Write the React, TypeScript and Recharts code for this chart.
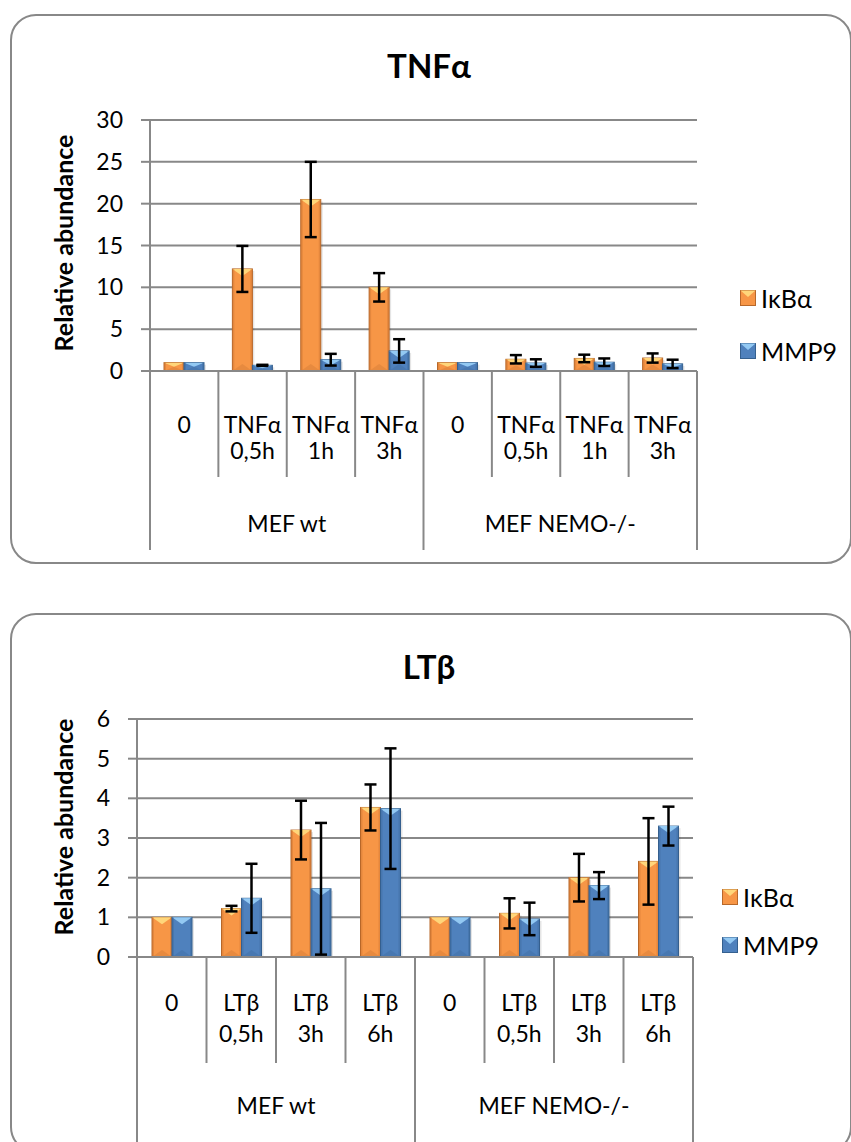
import React from 'react';
import { BarChart, Bar, XAxis, YAxis, CartesianGrid, ErrorBar, Legend } from 'recharts';

const groupNames = ['MEF wt', 'MEF NEMO-/-'];
const seriesNames = ['IκBα', 'MMP9'];

// TNFα panel
const tnfTimes = ['0', '0,5h', '1h', '3h', '0', '0,5h', '1h', '3h'];
const tnfIkb = [1, 12.2, 20.5, 10, 1, 1.4, 1.5, 1.55];
const tnfIkbErr = [0, 2.75, 4.5, 1.7, 0, 0.5, 0.45, 0.55];
const tnfMmp = [1, 0.68, 1.35, 2.4, 1, 0.95, 1.05, 0.85];
const tnfMmpErr = [0, 0.06, 0.7, 1.4, 0, 0.45, 0.45, 0.5];
const tnfTicks = [0, 5, 10, 15, 20, 25, 30];

// LTβ panel
const ltTimes = ['0', '0,5h', '3h', '6h', '0', '0,5h', '3h', '6h'];
const ltIkb = [1, 1.22, 3.2, 3.77, 1, 1.1, 2.0, 2.41];
const ltIkbErr = [0, 0.07, 0.74, 0.58, 0, 0.38, 0.6, 1.09];
const ltMmp = [1, 1.48, 1.72, 3.74, 1, 0.96, 1.8, 3.3];
const ltMmpErr = [0, 0.87, 1.66, 1.52, 0, 0.41, 0.34, 0.49];
const ltTicks = [0, 1, 2, 3, 4, 5, 6];

const FONT = "Lato, 'Open Sans', 'DejaVu Sans', sans-serif";
const GRID = '#888888';

const orange = { fill: '#f79646', light: '#ffd67a', dark: '#b8682a' };
const blue = { fill: '#4f81bd', light: '#93c9f3', dark: '#35608f' };

function buildRows(times: string[], ikb: number[], ikbErr: number[], mmp: number[], mmpErr: number[]) {
  return times.map((t, i) => ({
    idx: i,
    ikb: ikb[i],
    ikbErr: ikbErr[i],
    mmp: mmp[i],
    mmpErr: mmpErr[i],
  }));
}

const BevelBar = (props: any) => {
  const { x, y, width, height, colors } = props;
  if (!height || height <= 0) return null;
  const d = Math.min(7, height / 2);
  return (
    <g>
      <rect x={x + 2} y={y + 2} width={width} height={height - 2} fill="#000" opacity={0.1} />
      <rect x={x} y={y} width={width} height={height} fill={colors.fill} stroke={colors.dark} strokeWidth={1} />
      <polygon points={`${x},${y} ${x + width},${y} ${x + width / 2},${y + d}`} fill={colors.light} />
      <polygon
        points={`${x},${y + height} ${x + width},${y + height} ${x + width / 2},${y + height - d}`}
        fill={colors.dark}
        opacity={0.25}
      />
      <rect x={x} y={y} width={2} height={height} fill={colors.dark} opacity={0.3} />
      <rect x={x + width - 2} y={y} width={2} height={height} fill={colors.dark} opacity={0.3} />
    </g>
  );
};

const Marker = ({ colors }: any) => (
  <svg width={16} height={16} style={{ display: 'block' }}>
    <rect x={0.5} y={0.5} width={15} height={15} fill={colors.fill} stroke={colors.dark} />
    <polygon points="0.5,0.5 15.5,0.5 8,7" fill={colors.light} />
  </svg>
);

interface Cfg {
  chartTop: number;
  height: number;
  plotLeft: number;
  plotRight: number;
  plotTop: number;
  plotBottom: number;
  row1: number;
  row2: number;
  divEnd: number;
  groupLabel: number;
  groupEnd: number;
  ylabelY: number;
  legendX: number;
  legendY: number;
  legendGap: number;
  titleY: number;
  panelTop: number;
  panelHeight: number;
}

const tnfCfg: Cfg = {
  chartTop: 0, height: 570,
  plotLeft: 150, plotRight: 697, plotTop: 120, plotBottom: 371,
  row1: 53, row2: 79, divEnd: 106, groupLabel: 152, groupEnd: 179,
  ylabelY: 243, legendX: 740, legendY: 283, legendGap: 53, titleY: 65,
  panelTop: 14, panelHeight: 550,
};

const ltCfg: Cfg = {
  chartTop: 600, height: 542,
  plotLeft: 137, plotRight: 693, plotTop: 119, plotBottom: 357,
  row1: 45, row2: 76, divEnd: 106, groupLabel: 148, groupEnd: 200,
  ylabelY: 227, legendX: 722, legendY: 282, legendGap: 48, titleY: 666,
  panelTop: 613, panelHeight: 540,
};

const YAXIS_W = 60;

const Panel = ({ cfg, title, stimulus, times, rows, ticks }: any) => {
  const n = times.length;
  const half = n / 2;
  const bw = (cfg.plotRight - cfg.plotLeft) / n;

  const renderTick = (props: any) => {
    const { x, y, payload } = props;
    const i = Number(payload.value);
    const t = times[i];
    const leftIsGroup = i % half === 0;
    const txt = { fontFamily: FONT, fontSize: 23, fill: '#000', textAnchor: 'middle' as const, dominantBaseline: 'central' as const };
    return (
      <g>
        <line x1={x - bw / 2} x2={x - bw / 2} y1={y} y2={y + (leftIsGroup ? cfg.groupEnd : cfg.divEnd)} stroke={GRID} strokeWidth={2} />
        {i === n - 1 && (
          <line x1={x + bw / 2} x2={x + bw / 2} y1={y} y2={y + cfg.groupEnd} stroke={GRID} strokeWidth={2} />
        )}
        {t === '0' ? (
          <text x={x} y={y + cfg.row1} {...txt}>0</text>
        ) : (
          <>
            <text x={x} y={y + cfg.row1} {...txt}>{stimulus}</text>
            <text x={x} y={y + cfg.row2} {...txt}>{t}</text>
          </>
        )}
        {leftIsGroup && (
          <text x={x - bw / 2 + (bw * half) / 2} y={y + cfg.groupLabel} {...txt}>
            {groupNames[i / half]}
          </text>
        )}
      </g>
    );
  };

  const renderYLabel = () => (
    <text
      x={63}
      y={cfg.ylabelY}
      transform={`rotate(-90 63 ${cfg.ylabelY})`}
      textAnchor="middle"
      dominantBaseline="central"
      fontFamily={FONT}
      fontSize={25}
      fontWeight={700}
      fill="#000"
    >
      Relative abundance
    </text>
  );

  const renderLegend = () => (
    <div style={{ fontFamily: FONT, fontSize: 25, color: '#000' }}>
      {seriesNames.map((s, k) => (
        <div key={s} style={{ display: 'flex', alignItems: 'center', height: 30, marginBottom: cfg.legendGap - 30 }}>
          <Marker colors={k === 0 ? orange : blue} />
          <span style={{ marginLeft: 5 }}>{s}</span>
        </div>
      ))}
    </div>
  );

  return (
    <>
      <div
        style={{
          position: 'absolute',
          left: 10,
          top: cfg.panelTop,
          width: 842,
          height: cfg.panelHeight,
          boxSizing: 'border-box',
          border: `2px solid ${GRID}`,
          borderRadius: 26,
        }}
      />
      <div
        style={{
          position: 'absolute',
          left: 329,
          width: 200,
          top: cfg.titleY - 20,
          lineHeight: '40px',
          textAlign: 'center',
          fontFamily: FONT,
          fontWeight: 700,
          fontSize: 33,
        }}
      >
        {title}
      </div>
      <div style={{ position: 'absolute', left: 0, top: cfg.chartTop }}>
        <BarChart
          width={851}
          height={cfg.height}
          data={rows}
          barSize={20}
          barGap={0}
          margin={{ top: cfg.plotTop, right: 851 - cfg.plotRight, bottom: 0, left: cfg.plotLeft - YAXIS_W }}
        >
          <CartesianGrid vertical={false} stroke={GRID} strokeWidth={2} />
          <XAxis
            dataKey="idx"
            type="category"
            interval={0}
            height={cfg.height - cfg.plotBottom}
            tickSize={0}
            tickMargin={0}
            tickLine={false}
            axisLine={{ stroke: GRID, strokeWidth: 2 }}
            tick={renderTick}
          />
          <YAxis
            width={YAXIS_W}
            domain={[0, ticks[ticks.length - 1]]}
            ticks={ticks}
            interval={0}
            tickSize={9}
            tickMargin={18}
            tickLine={{ stroke: GRID, strokeWidth: 2 }}
            axisLine={{ stroke: GRID, strokeWidth: 2 }}
            tick={{ fontFamily: FONT, fontSize: 23, fill: '#000' }}
            label={{ content: renderYLabel }}
          />
          <Legend
            layout="vertical"
            align="center"
            verticalAlign="middle"
            wrapperStyle={{ left: cfg.legendX, top: cfg.legendY, width: 110 }}
            content={renderLegend}
          />
          <Bar dataKey="ikb" name={seriesNames[0]} isAnimationActive={false} shape={(p: any) => <BevelBar {...p} colors={orange} />}>
            <ErrorBar dataKey="ikbErr" direction="y" width={6} strokeWidth={2.5} stroke="#000" isAnimationActive={false} />
          </Bar>
          <Bar dataKey="mmp" name={seriesNames[1]} isAnimationActive={false} shape={(p: any) => <BevelBar {...p} colors={blue} />}>
            <ErrorBar dataKey="mmpErr" direction="y" width={6} strokeWidth={2.5} stroke="#000" isAnimationActive={false} />
          </Bar>
        </BarChart>
      </div>
    </>
  );
};

export default function App() {
  const tnfRows = buildRows(tnfTimes, tnfIkb, tnfIkbErr, tnfMmp, tnfMmpErr);
  const ltRows = buildRows(ltTimes, ltIkb, ltIkbErr, ltMmp, ltMmpErr);
  return (
    <div style={{ position: 'absolute', left: 0, top: 0, width: 851, height: 1142, overflow: 'hidden', background: '#fff' }}>
      <Panel cfg={tnfCfg} title="TNFα" stimulus="TNFα" times={tnfTimes} rows={tnfRows} ticks={tnfTicks} />
      <Panel cfg={ltCfg} title="LTβ" stimulus="LTβ" times={ltTimes} rows={ltRows} ticks={ltTicks} />
    </div>
  );
}
